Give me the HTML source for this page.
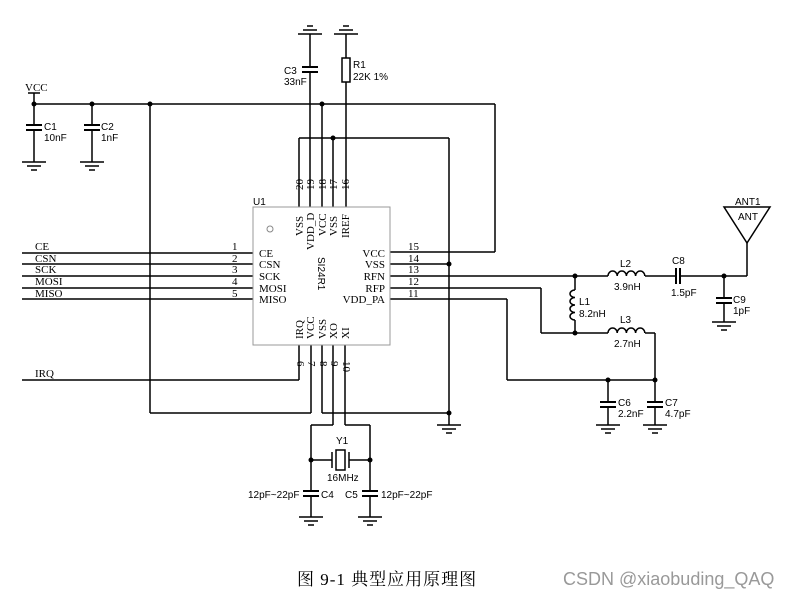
<!DOCTYPE html>
<html><head><meta charset="utf-8"><style>
html,body{margin:0;padding:0;background:#fff;}
svg{display:block}
.s{font-family:"Liberation Serif",serif;font-size:11px;fill:#000}
.a{font-family:"Liberation Sans",sans-serif;font-size:10px;fill:#000}
</style></head><body>
<svg width="791" height="601" viewBox="0 0 791 601" xmlns="http://www.w3.org/2000/svg">
<defs>
<g id="gd" stroke="#000" stroke-width="1.5"><line x1="-12" y1="0" x2="12" y2="0"/><line x1="-7" y1="4" x2="7" y2="4"/><line x1="-3" y1="8" x2="3" y2="8"/></g>
<g id="gu" stroke="#000" stroke-width="1.5"><line x1="-12" y1="0" x2="12" y2="0"/><line x1="-7" y1="-4" x2="7" y2="-4"/><line x1="-3" y1="-8" x2="3" y2="-8"/></g>
<g id="cv" stroke="#000" stroke-width="2"><line x1="-8" y1="0" x2="8" y2="0"/><line x1="-8" y1="5" x2="8" y2="5"/></g>
</defs>
<g stroke="#000" stroke-width="1.5" fill="none">
<line x1="34" y1="93" x2="34" y2="162"/><line x1="28" y1="93" x2="40" y2="93"/>
<line x1="34" y1="104" x2="495" y2="104"/>
<line x1="495" y1="104" x2="495" y2="252"/><line x1="390" y1="252" x2="495" y2="252"/>
<line x1="92" y1="104" x2="92" y2="162"/>
<line x1="150" y1="104" x2="150" y2="413"/><line x1="150" y1="413" x2="311" y2="413"/>
<line x1="299" y1="207" x2="299" y2="138"/><line x1="299" y1="138" x2="449" y2="138"/>
<line x1="310" y1="207" x2="310" y2="34"/>
<line x1="322" y1="207" x2="322" y2="104"/>
<line x1="333" y1="207" x2="333" y2="138"/>
<line x1="346" y1="207" x2="346" y2="34"/>
<line x1="449" y1="138" x2="449" y2="425"/>
<line x1="22" y1="253" x2="253" y2="253"/><line x1="22" y1="264" x2="253" y2="264"/>
<line x1="22" y1="276" x2="253" y2="276"/><line x1="22" y1="288" x2="253" y2="288"/>
<line x1="22" y1="299" x2="253" y2="299"/>
<line x1="22" y1="380" x2="299" y2="380"/><line x1="299" y1="345" x2="299" y2="380"/>
<line x1="311" y1="345" x2="311" y2="413"/>
<line x1="322" y1="345" x2="322" y2="413"/><line x1="322" y1="413" x2="449" y2="413"/>
<line x1="333" y1="345" x2="333" y2="425"/><line x1="333" y1="425" x2="311" y2="425"/><line x1="311" y1="425" x2="311" y2="517"/>
<line x1="345" y1="345" x2="345" y2="425"/><line x1="345" y1="425" x2="370" y2="425"/><line x1="370" y1="425" x2="370" y2="517"/>
<line x1="311" y1="460" x2="332" y2="460"/><line x1="349" y1="460" x2="370" y2="460"/>
<line x1="390" y1="264" x2="449" y2="264"/>
<line x1="390" y1="276" x2="608" y2="276"/><line x1="645" y1="276" x2="747" y2="276"/>
<line x1="747" y1="276" x2="747" y2="243"/>
<line x1="390" y1="288" x2="541" y2="288"/><line x1="541" y1="288" x2="541" y2="333"/><line x1="541" y1="333" x2="608" y2="333"/>
<line x1="645" y1="333" x2="655" y2="333"/><line x1="655" y1="333" x2="655" y2="425"/>
<line x1="390" y1="299" x2="507" y2="299"/><line x1="507" y1="299" x2="507" y2="380"/><line x1="507" y1="380" x2="655" y2="380"/>
<line x1="575" y1="276" x2="575" y2="290"/><line x1="575" y1="320" x2="575" y2="333"/>
<line x1="608" y1="380" x2="608" y2="425"/>
<line x1="724" y1="276" x2="724" y2="322"/>
<polygon points="724,207 770,207 747,243"/>
</g>
<g fill="#fff"><rect x="24" y="126" width="20" height="4"/><rect x="82" y="126" width="20" height="4"/><rect x="300" y="68" width="20" height="4"/>
<rect x="300" y="492" width="20" height="4"/><rect x="360" y="492" width="20" height="4"/><rect x="598" y="403" width="20" height="4"/><rect x="645" y="403" width="20" height="4"/><rect x="714" y="299" width="20" height="4"/>
<rect x="675" y="266" width="5" height="20"/></g>
<use href="#cv" x="34" y="125"/><use href="#cv" x="92" y="125"/><use href="#cv" x="310" y="67"/>
<use href="#cv" x="311" y="491"/><use href="#cv" x="370" y="491"/><use href="#cv" x="608" y="402"/><use href="#cv" x="655" y="402"/><use href="#cv" x="724" y="298"/>
<g stroke="#000" stroke-width="2"><line x1="676" y1="268" x2="676" y2="284"/><line x1="680" y1="268" x2="680" y2="284"/></g>
<rect x="342" y="58" width="8" height="24" fill="#fff" stroke="#000" stroke-width="1.5"/>
<g stroke="#000" stroke-width="1.5" fill="#fff"><line x1="332" y1="452" x2="332" y2="468"/><line x1="349" y1="452" x2="349" y2="468"/><rect x="336" y="450" width="9" height="20"/></g>
<g stroke="#000" stroke-width="1.5" fill="none">
<path d="M608 276 a4.6 5 0 0 1 9.2 0 a4.6 5 0 0 1 9.2 0 a4.6 5 0 0 1 9.2 0 a4.6 5 0 0 1 9.2 0"/>
<path d="M608 333 a4.6 5 0 0 1 9.2 0 a4.6 5 0 0 1 9.2 0 a4.6 5 0 0 1 9.2 0 a4.6 5 0 0 1 9.2 0"/>
<path d="M575 290 a5 3.75 0 0 0 0 7.5 a5 3.75 0 0 0 0 7.5 a5 3.75 0 0 0 0 7.5 a5 3.75 0 0 0 0 7.5"/>
</g>
<use href="#gd" x="34" y="162"/><use href="#gd" x="92" y="162"/><use href="#gd" x="449" y="425"/>
<use href="#gd" x="311" y="517"/><use href="#gd" x="370" y="517"/><use href="#gd" x="608" y="425"/><use href="#gd" x="655" y="425"/><use href="#gd" x="724" y="322"/>
<use href="#gu" x="310" y="34"/><use href="#gu" x="346" y="34"/>
<g fill="#000"><circle cx="34" cy="104" r="2.5"/><circle cx="92" cy="104" r="2.5"/><circle cx="150" cy="104" r="2.5"/><circle cx="322" cy="104" r="2.5"/>
<circle cx="333" cy="138" r="2.5"/><circle cx="449" cy="264" r="2.5"/><circle cx="449" cy="413" r="2.5"/>
<circle cx="311" cy="460" r="2.5"/><circle cx="370" cy="460" r="2.5"/>
<circle cx="575" cy="276" r="2.5"/><circle cx="575" cy="333" r="2.5"/><circle cx="724" cy="276" r="2.5"/>
<circle cx="608" cy="380" r="2.5"/><circle cx="655" cy="380" r="2.5"/></g>
<rect x="253" y="207" width="137" height="138" fill="#fff" stroke="#999" stroke-width="1"/>
<circle cx="270" cy="229" r="3" fill="none" stroke="#888"/>
<text class="s" x="25" y="91">VCC</text>
<text class="a" x="44" y="130">C1</text><text class="a" x="44" y="141">10nF</text>
<text class="a" x="101" y="130">C2</text><text class="a" x="101" y="141">1nF</text>
<text class="a" x="284" y="74">C3</text><text class="a" x="284" y="85">33nF</text>
<text class="a" x="353" y="68">R1</text><text class="a" x="353" y="80">22K 1%</text>
<text class="a" x="253" y="205">U1</text>
<g class="s">
<text x="35" y="250">CE</text><text x="35" y="262">CSN</text><text x="35" y="273">SCK</text><text x="35" y="285">MOSI</text><text x="35" y="297">MISO</text><text x="35" y="377">IRQ</text>
<text x="232" y="250">1</text><text x="232" y="262">2</text><text x="232" y="273">3</text><text x="232" y="285">4</text><text x="232" y="297">5</text>
<text x="259" y="257">CE</text><text x="259" y="268">CSN</text><text x="259" y="280">SCK</text><text x="259" y="292">MOSI</text><text x="259" y="303">MISO</text>
<text x="385" y="257" text-anchor="end">VCC</text><text x="385" y="268" text-anchor="end">VSS</text><text x="385" y="280" text-anchor="end">RFN</text><text x="385" y="292" text-anchor="end">RFP</text><text x="385" y="303" text-anchor="end">VDD_PA</text>
<text x="408" y="250">15</text><text x="408" y="262">14</text><text x="408" y="273">13</text><text x="408" y="285">12</text><text x="408" y="297">11</text>
</g>
<g class="s">
<text transform="translate(303,236) rotate(-90)">VSS</text>
<text transform="translate(314,250) rotate(-90)">VDD_D</text>
<text transform="translate(326,236) rotate(-90)">VCC</text>
<text transform="translate(337,236) rotate(-90)">VSS</text>
<text transform="translate(349,238) rotate(-90)">IREF</text>
<text transform="translate(303,190) rotate(-90)">20</text>
<text transform="translate(314,190) rotate(-90)">19</text>
<text transform="translate(326,190) rotate(-90)">18</text>
<text transform="translate(337,190) rotate(-90)">17</text>
<text transform="translate(349,190) rotate(-90)">16</text>
<text transform="translate(303,339) rotate(-90)">IRQ</text>
<text transform="translate(314,339) rotate(-90)">VCC</text>
<text transform="translate(326,339) rotate(-90)">VSS</text>
<text transform="translate(337,339) rotate(-90)">XO</text>
<text transform="translate(349,339) rotate(-90)">XI</text>
<text transform="translate(297,361) rotate(90)">6</text>
<text transform="translate(308,361) rotate(90)">7</text>
<text transform="translate(320,361) rotate(90)">8</text>
<text transform="translate(331,361) rotate(90)">9</text>
<text transform="translate(343,361) rotate(90)">10</text>
</g>
<text class="a" transform="translate(318,257) rotate(90)" font-size="11">SI24R1</text>
<text class="a" x="336" y="444">Y1</text><text class="a" x="327" y="481">16MHz</text>
<text class="a" x="248" y="498">12pF~22pF</text><text class="a" x="321" y="498">C4</text>
<text class="a" x="345" y="498">C5</text><text class="a" x="381" y="498">12pF~22pF</text>
<text class="a" x="620" y="267">L2</text><text class="a" x="614" y="290">3.9nH</text>
<text class="a" x="672" y="264">C8</text><text class="a" x="671" y="296">1.5pF</text>
<text class="a" x="579" y="305">L1</text><text class="a" x="579" y="317">8.2nH</text>
<text class="a" x="620" y="323">L3</text><text class="a" x="614" y="347">2.7nH</text>
<text class="a" x="733" y="303">C9</text><text class="a" x="733" y="314">1pF</text>
<text class="a" x="618" y="406">C6</text><text class="a" x="618" y="417">2.2nF</text>
<text class="a" x="665" y="406">C7</text><text class="a" x="665" y="417">4.7pF</text>
<text class="a" x="735" y="205">ANT1</text><text class="a" x="738" y="220">ANT</text>
<text x="297" y="585" font-family="'Liberation Serif','Noto Serif CJK SC',serif" font-size="17" letter-spacing="1">图 9-1  典型应用原理图</text>
<text x="563" y="585" font-family="'Liberation Sans',sans-serif" font-size="18" fill="#999">CSDN @xiaobuding_QAQ</text>
</svg>
</body></html>
